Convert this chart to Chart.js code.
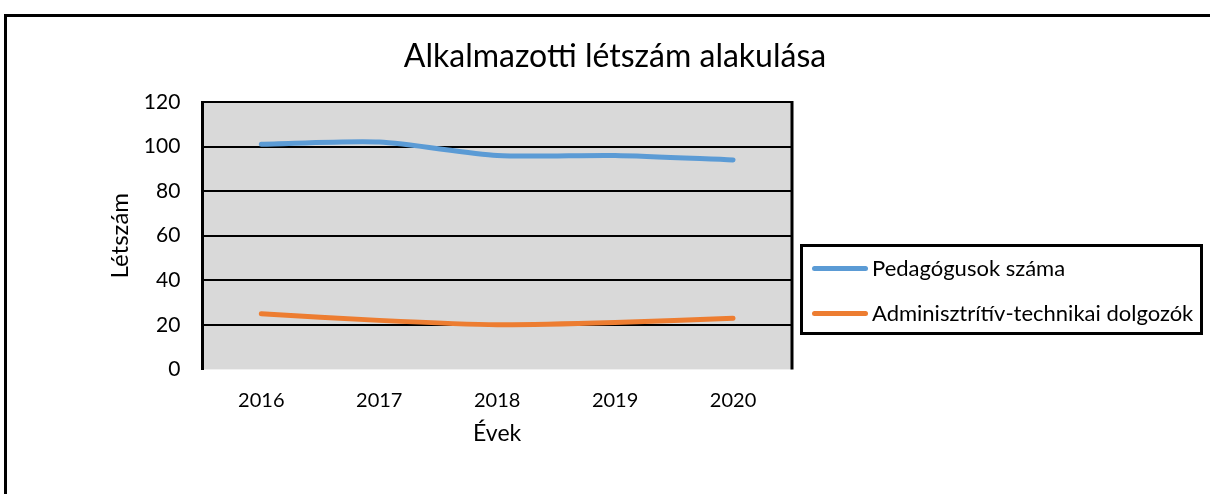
<!DOCTYPE html>
<html>
<head>
<meta charset="utf-8">
<script src="https://cdn.jsdelivr.net/npm/chart.js@4"></script>
<style>
    body { margin: 0; background: #fff; overflow: hidden; }
    #wrap { position: relative; width: 1210px; height: 494px; overflow: hidden; }
    #frame { position: absolute; left: 4px; top: 14px; width: 1206px; height: 480px; border-top: 3px solid #000; border-left: 3px solid #000; box-sizing: border-box; }
    #chart { position: absolute; left: 0; top: 0; }
    #legend { position: absolute; left: 800px; top: 244px; width: 403px; height: 91px; border: 3px solid #000; box-sizing: border-box; font-family: Lato, 'Noto Sans', sans-serif; font-size: 22px; color: #000; }
    .item { position: absolute; left: 9px; display: flex; align-items: center; line-height: 26px; }
    .swatch { width: 56px; height: 5px; border-radius: 3px; margin-right: 4px; }
</style>
</head>
<body>
<div id="wrap">
    <div id="frame"></div>
    <canvas id="chart" width="1210" height="494"></canvas>
    <div id="legend"></div>
</div>
<script>
const years = ['2016', '2017', '2018', '2019', '2020'];
const pedagogusok = [101, 102, 96, 96, 94];
const adminisztrativ = [25, 22, 20, 21, 23];
const seriesNames = ['Pedagógusok száma', 'Adminisztrítív-technikai dolgozók'];
const seriesColors = ['#5b9bd5', '#ed7d31'];
const yTicks = [0, 20, 40, 60, 80, 100, 120];
const chartTitle = 'Alkalmazotti létszám alakulása';

const font = "Lato, 'Noto Sans', sans-serif";

// szürke háttér, jobb oldali keret, cím a teljes szélesség közepén
const plotArea = {
    id: 'plotArea',
    beforeDraw(chart) {
        const { ctx, chartArea: a } = chart;
        ctx.save();
        ctx.fillStyle = '#d9d9d9';
        ctx.fillRect(a.left, a.top, a.right - a.left, a.bottom - a.top);
        ctx.restore();
    },
    afterDatasetsDraw(chart) {
        const { ctx, chartArea: a } = chart;
        ctx.save();
        ctx.strokeStyle = '#000';
        ctx.lineWidth = 3;
        ctx.beginPath();
        ctx.moveTo(a.right, a.top - 1);
        ctx.lineTo(a.right, a.bottom);
        ctx.stroke();
        ctx.restore();
    },
    afterDraw(chart) {
        const { ctx, width } = chart;
        ctx.save();
        ctx.fillStyle = '#000';
        ctx.font = '32px ' + font;
        ctx.textAlign = 'center';
        ctx.textBaseline = 'alphabetic';
        ctx.fillText(chartTitle, width / 2 + 10, 67);
        ctx.restore();
    }
};

new Chart(document.getElementById('chart'), {
    type: 'line',
    data: {
        labels: years,
        datasets: [pedagogusok, adminisztrativ].map((d, i) => ({
            label: seriesNames[i],
            data: d,
            borderColor: seriesColors[i],
            backgroundColor: seriesColors[i],
            borderWidth: 5,
            pointRadius: 0,
            tension: 0.25,
            borderCapStyle: 'round'
        }))
    },
    options: {
        responsive: false,
        animation: false,
        layout: { padding: { left: 106, right: 418, top: 102, bottom: 47 } },
        scales: {
            x: {
                offset: true,
                grid: { display: false, drawTicks: false },
                border: { display: false },
                ticks: { color: '#000', font: { family: font, size: 20 }, padding: 19 },
                title: { display: true, text: 'Évek', color: '#000', font: { family: font, size: 23 }, padding: { top: -12, bottom: 0 } }
            },
            y: {
                min: 0,
                max: 120,
                afterBuildTicks(axis) { axis.ticks = yTicks.map(v => ({ value: v })); },
                grid: {
                    color: c => c.tick.value === 0 ? 'rgba(0,0,0,0)' : '#000',
                    lineWidth: 2,
                    drawTicks: false
                },
                border: { display: true, color: '#000', width: 3 },
                ticks: { color: '#000', font: { family: font, size: 21 }, padding: 22 },
                title: { display: true, text: 'Létszám', color: '#000', font: { family: font, size: 24 }, padding: { top: 0, bottom: -13 } }
            }
        },
        plugins: {
            legend: { display: false },
            tooltip: { enabled: false },
            title: { display: false }
        }
    },
    plugins: [plotArea]
});

// jelmagyarázat
const legend = document.getElementById('legend');
seriesNames.forEach((name, i) => {
    const item = document.createElement('div');
    item.className = 'item';
    item.style.top = (i === 0 ? 8 : 53) + 'px';
    item.innerHTML = `<span class="swatch" style="background:${seriesColors[i]}"></span><span>${name}</span>`;
    legend.appendChild(item);
});
</script>
</body>
</html>
